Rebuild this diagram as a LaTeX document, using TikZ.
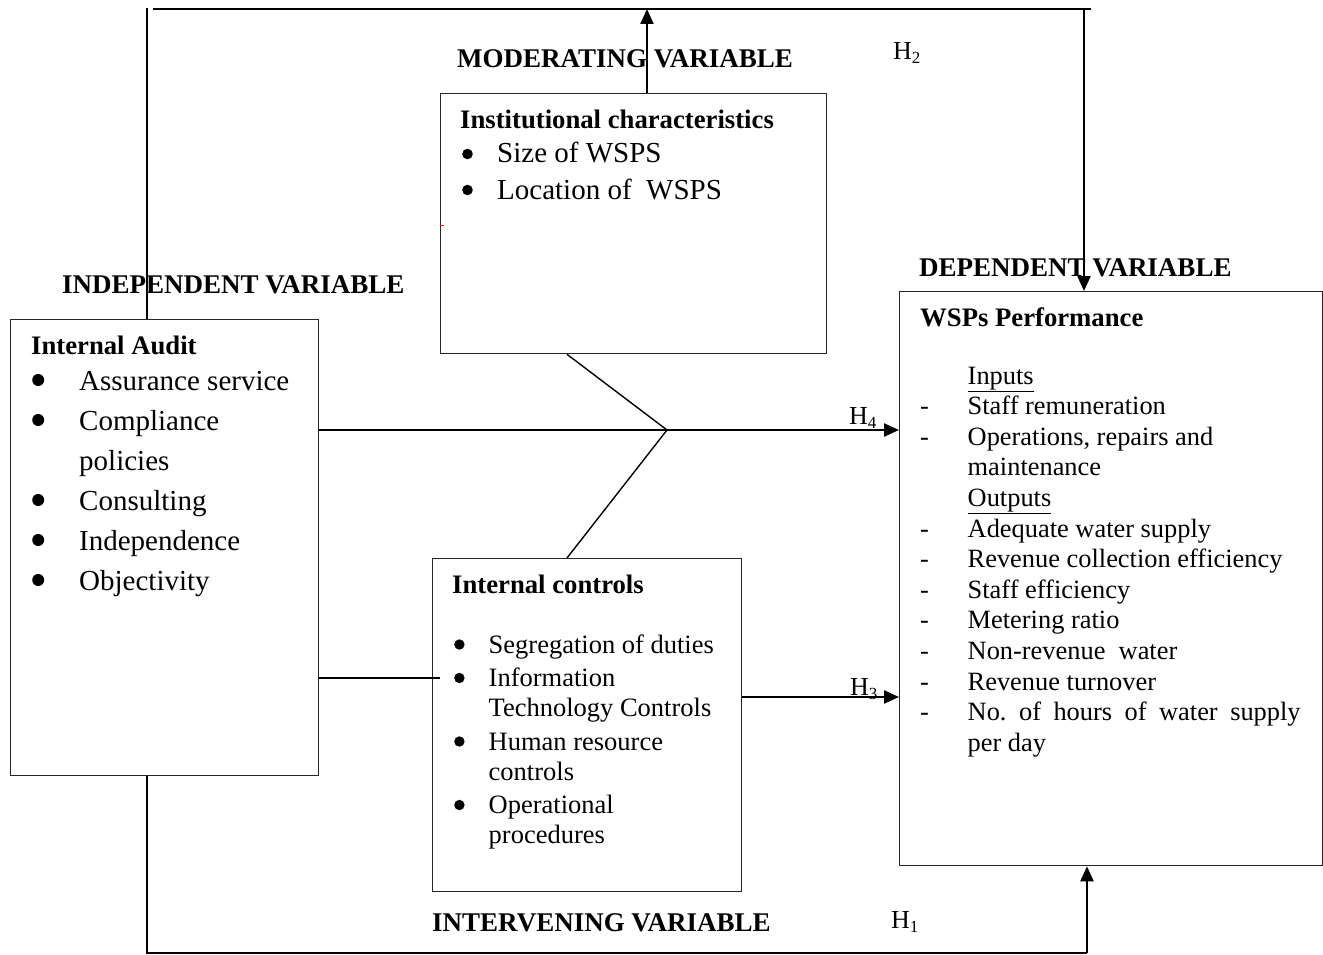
\documentclass[tikz,border=0pt]{standalone}
\usepackage{fontspec}
\setmainfont{Liberation Serif}
\usetikzlibrary{arrows.meta}
\newcommand\Hsub[1]{\raisebox{-4pt}{\fontsize{17}{17}\selectfont #1}}
\newcommand\Blt[2]{\tikz[baseline=0pt]{\fill[black] (0pt,#2) circle[radius=#1];}}
\begin{document}
\begin{tikzpicture}[x=1pt,y=-1pt,
  box/.style={draw=black!85, line width=1.3pt, rectangle, inner sep=0pt, anchor=north west},
  conn/.style={line width=1.4pt},
  arr/.style={line width=2.3pt, -{Triangle[length=15pt,width=13pt]}},
  lbl/.style={anchor=base west, inner sep=0pt, font=\fontsize{27}{30}\selectfont\bfseries},
  txt/.style={anchor=base west, inner sep=0pt},
  hdr/.style={anchor=base west, inner sep=0pt, font=\fontsize{26.7}{30}\selectfont\bfseries},
  hyp/.style={anchor=base west, inner sep=0pt, font=\fontsize{26}{30}\selectfont}
]
\useasboundingbox (0,0) rectangle (1323,955);

% boxes
\node[box, minimum width=308pt, minimum height=456pt] (ia) at (10,319) {};
\node[box, minimum width=386pt, minimum height=260pt] (inst) at (440,93) {};
\node[box, minimum width=309pt, minimum height=333pt] (ic) at (432,558) {};
\node[box, minimum width=423pt, minimum height=574pt] (wsp) at (899,291) {};

% helper coordinates
\coordinate (TL) at (147,8);
\coordinate (TH0) at (153,9);
\coordinate (TR) at (1091,9);
\coordinate (H2x) at (1084,9);
\coordinate (Mx) at (647,9);
\coordinate (BL) at (147,953);
\coordinate (BR) at (1087,953);
\coordinate (apex) at (667,430);
\coordinate (C) at (567,0);
\coordinate (J) at (440,678);
\coordinate (K) at (0,697);

% connectors
\draw[conn] (TL |- ia.north) -- (TL);
\draw[line width=2pt] (TH0) -- (TR);
\draw[arr] (Mx |- inst.north) -- (Mx);
\draw[arr] (H2x) -- (H2x |- wsp.north);
\draw[conn] (BL |- ia.south) -- (BL) -- (BR);
\draw[arr] (BR) -- (BR |- wsp.south);
\draw[arr] (ia.east |- apex) -- (wsp.west |- apex);
\draw[conn] (C |- inst.south) -- (apex) -- (C |- ic.north);
\draw[conn] (ia.east |- J) -- (J);
\draw[arr] (ic.east |- K) -- (wsp.west |- K);
\draw[red, line width=1pt] (440,225) -- (444,225);

% labels
\node[lbl] (modl) at (457,68) {MODERATING VARIABLE};
\node[lbl] (indl) at (62,293) {INDEPENDENT VARIABLE};
\node[lbl] (depl) at (919,276) {DEPENDENT VARIABLE};
\node[lbl] (intl) at (432,931) {INTERVENING VARIABLE};

\node[hyp] (h2) at (893,60) {H\Hsub{2}};
\node[hyp] (h4) at (849,424) {H\Hsub{4}};
\node[hyp] (h3) at (850,695) {H\Hsub{3}};
\node[hyp] (h1) at (891,928) {H\Hsub{1}};

% internal audit
\node[hdr] (iah) at (31,354) {Internal Audit};
\node[txt] (iab) at (32,390) {\fontsize{29}{40}\selectfont\begin{tabular}[t]{@{}p{47pt}@{}l@{}}
\Blt{6pt}{10pt}&Assurance service\\
\Blt{6pt}{10pt}&Compliance\\
&policies\\
\Blt{6pt}{10pt}&Consulting\\
\Blt{6pt}{10pt}&Independence\\
\Blt{6pt}{10pt}&Objectivity
\end{tabular}};

% institutional
\node[hdr] (insth) at (460,129) {Institutional characteristics};
\node[txt] (instb) at (462,163) {\fontsize{29}{36}\selectfont\begin{tabular}[t]{@{}p{35pt}@{}l@{}}
\Blt{5.3pt}{9pt}&Size of WSPS\\
\Blt{5.3pt}{9pt}&Location of\ \ WSPS
\end{tabular}};

% internal controls
\node[hdr] (ich) at (452,593) {Internal controls};
\node[txt] (icb) at (454,653) {\fontsize{26.5}{30}\selectfont\begin{tabular}[t]{@{}p{34.5pt}@{}l@{}}
\Blt{5.2pt}{8.5pt}&Segregation of duties\\[3.5pt]
\Blt{5.2pt}{8.5pt}&Information\\
&Technology Controls\\[3.5pt]
\Blt{5.2pt}{8.5pt}&Human resource\\
&controls\\[3.5pt]
\Blt{5.2pt}{8.5pt}&Operational\\
&procedures
\end{tabular}};

% WSPs performance
\node[hdr] (wsph) at (920,326) {WSPs Performance};
\node[txt] (wspb) at (920,384) {\fontsize{26.4}{30.6}\selectfont\begin{tabular}[t]{@{}p{47.5pt}@{}l@{}}
&\underline{Inputs}\\
-&Staff remuneration\\
-&Operations, repairs and\\
&maintenance\\
&\underline{Outputs}\\
-&Adequate water supply\\
-&Revenue collection efficiency\\
-&Staff efficiency\\
-&Metering ratio\\
-&Non-revenue\ \ water\\
-&Revenue turnover\\
-&\makebox[333pt][s]{No.\ of hours of water supply}\\
&per day
\end{tabular}};
\end{tikzpicture}
\end{document}
